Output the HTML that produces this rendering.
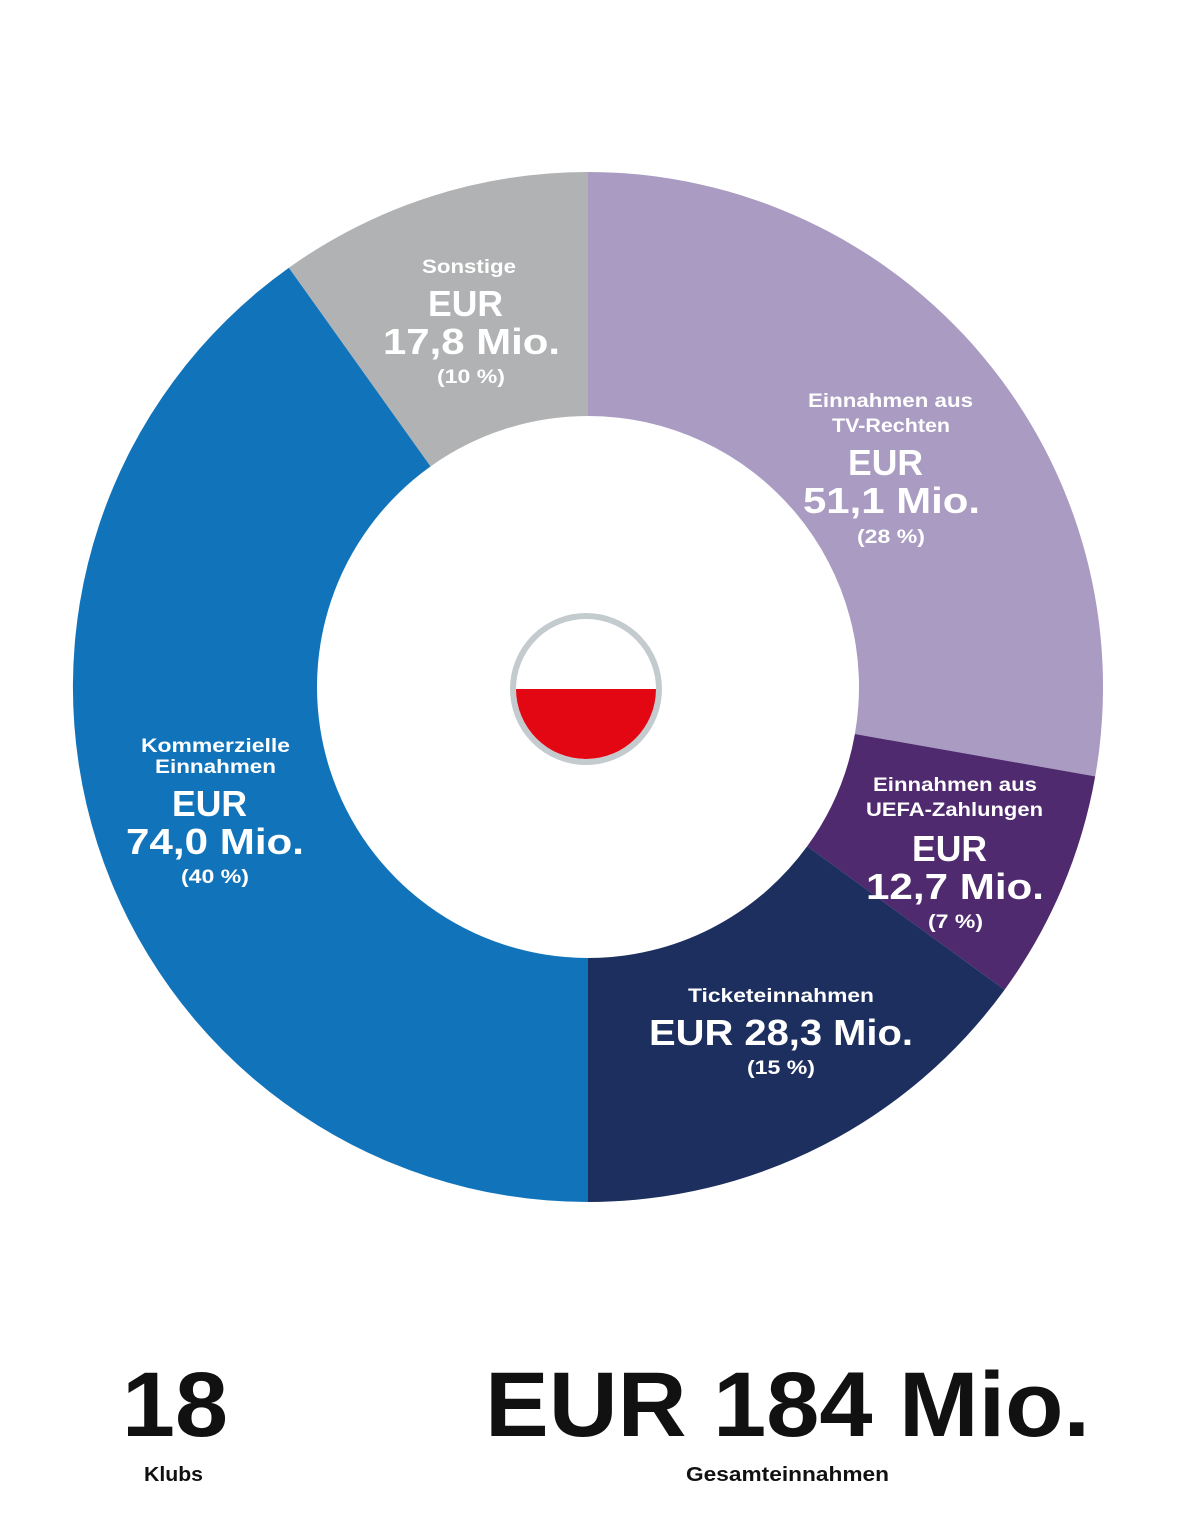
<!DOCTYPE html>
<html><head><meta charset="utf-8"><style>
html,body{margin:0;padding:0;background:#fff}
svg{display:block}
text{font-family:"Liberation Sans",sans-serif;font-weight:bold}
</style></head><body>
<svg width="1182" height="1522" viewBox="0 0 1182 1522" xmlns="http://www.w3.org/2000/svg">
<path d="M588,172 A515,515 0 0 1 1095.2,776.4 L854.9,734.0 A271,271 0 0 0 588,416 Z" fill="#a99bc1"/>
<path d="M1095.2,776.4 A515,515 0 0 1 1004.6,989.7 L807.2,846.3 A271,271 0 0 0 854.9,734.0 Z" fill="#4f2a6e"/>
<path d="M1004.6,989.7 A515,515 0 0 1 588,1202 L588,958 A271,271 0 0 0 807.2,846.3 Z" fill="#1d2f5e"/>
<path d="M588,1202 A515,515 0 0 1 288.9,267.7 L430.6,466.4 A271,271 0 0 0 588,958 Z" fill="#1174bb"/>
<path d="M288.9,267.7 A515,515 0 0 1 588,172 L588,416 A271,271 0 0 0 430.6,466.4 Z" fill="#b0b2b3"/>

<circle cx="586" cy="689" r="73" fill="#fff" stroke="#c3cbce" stroke-width="6"/>
<path d="M516,689 L656,689 A70,70 0 0 1 516,689 Z" fill="#e30613"/>

<g fill="#fff" text-anchor="middle" lengthAdjust="spacingAndGlyphs">
<text x="469" y="273" font-size="19" textLength="94" lengthAdjust="spacingAndGlyphs">Sonstige</text>
<text x="465.5" y="316" font-size="36" textLength="75" lengthAdjust="spacingAndGlyphs">EUR</text>
<text x="471.5" y="354" font-size="36" textLength="177" lengthAdjust="spacingAndGlyphs">17,8 Mio.</text>
<text x="471" y="383" font-size="19" textLength="68" lengthAdjust="spacingAndGlyphs">(10 %)</text>

<text x="890.5" y="407" font-size="19" textLength="165" lengthAdjust="spacingAndGlyphs">Einnahmen aus</text>
<text x="891" y="432" font-size="19" textLength="118" lengthAdjust="spacingAndGlyphs">TV-Rechten</text>
<text x="885.5" y="475" font-size="36" textLength="75" lengthAdjust="spacingAndGlyphs">EUR</text>
<text x="891.5" y="513" font-size="36" textLength="177" lengthAdjust="spacingAndGlyphs">51,1 Mio.</text>
<text x="891" y="543" font-size="19" textLength="68" lengthAdjust="spacingAndGlyphs">(28 %)</text>

<text x="955" y="791" font-size="19" textLength="164" lengthAdjust="spacingAndGlyphs">Einnahmen aus</text>
<text x="954.5" y="816" font-size="19" textLength="177" lengthAdjust="spacingAndGlyphs">UEFA-Zahlungen</text>
<text x="949.5" y="861" font-size="36" textLength="75" lengthAdjust="spacingAndGlyphs">EUR</text>
<text x="955" y="899" font-size="36" textLength="178" lengthAdjust="spacingAndGlyphs">12,7 Mio.</text>
<text x="955.5" y="928" font-size="19" textLength="55" lengthAdjust="spacingAndGlyphs">(7 %)</text>

<text x="781" y="1002" font-size="19" textLength="186" lengthAdjust="spacingAndGlyphs">Ticketeinnahmen</text>
<text x="781" y="1045" font-size="36" textLength="264" lengthAdjust="spacingAndGlyphs">EUR 28,3 Mio.</text>
<text x="781" y="1074" font-size="19" textLength="68" lengthAdjust="spacingAndGlyphs">(15 %)</text>

<text x="215.5" y="752" font-size="19" textLength="149" lengthAdjust="spacingAndGlyphs">Kommerzielle</text>
<text x="215.5" y="773" font-size="19" textLength="121" lengthAdjust="spacingAndGlyphs">Einnahmen</text>
<text x="209.5" y="816" font-size="36" textLength="75" lengthAdjust="spacingAndGlyphs">EUR</text>
<text x="215" y="854" font-size="36" textLength="178" lengthAdjust="spacingAndGlyphs">74,0 Mio.</text>
<text x="215" y="883" font-size="19" textLength="68" lengthAdjust="spacingAndGlyphs">(40 %)</text>
</g>

<g fill="#111" text-anchor="middle">
<text x="175" y="1436" font-size="92" textLength="106" lengthAdjust="spacingAndGlyphs">18</text>
<text x="173.5" y="1481" font-size="20" textLength="59" lengthAdjust="spacingAndGlyphs">Klubs</text>
<text x="787.5" y="1436" font-size="92" textLength="605" lengthAdjust="spacingAndGlyphs">EUR 184 Mio.</text>
<text x="787.5" y="1481" font-size="20" textLength="203" lengthAdjust="spacingAndGlyphs">Gesamteinnahmen</text>
</g>
</svg>
</body></html>
